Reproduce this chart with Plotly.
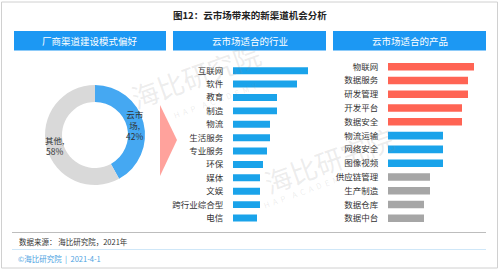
import math
import plotly.graph_objects as go

W, H = 500, 270
def px(x): return x / W
def py(y): return 1 - y / H

FONT = "Noto Sans CJK SC"

title = "图12：云市场带来的新渠道机会分析"
panel_titles = ["厂商渠道建设模式偏好", "云市场适合的行业", "云市场适合的产品"]

pie_labels = ["云市场", "其他"]
pie_values = [42, 58]
pie_text = ["云市<br>场,<br>42%", "其他,<br>58%"]
pie_colors = ["#45A8F2", "#D9D9D9"]

ind_cats = ["互联网", "软件", "教育", "制造", "物流", "生活服务", "专业服务", "环保",
            "媒体", "文娱", "跨行业综合型", "电信"]
ind_vals = [75, 64, 44, 44, 37, 37, 34, 30, 27, 27, 27, 24]

prod_cats = ["物联网", "数据服务", "研发管理", "开发平台", "数据安全", "物流运输", "网络安全",
             "图像视频", "供应链管理", "生产制造", "数据仓库", "数据中台"]
prod_vals = [86, 80, 80, 74, 74, 55, 55, 55, 42, 42, 36, 36]
prod_tier = [0, 0, 0, 0, 0, 1, 1, 1, 2, 2, 2, 2]
tier_colors = ["#FF6454", "#1AA3EA", "#A6A6A6"]

source_text = "数据来源： 海比研究院，2021年"
footer_text = "©海比研究院  |  2021-4-1"

fig = go.Figure()

def note(x, y, text, size, color, xanchor="center", angle=0, align="center"):
    fig.add_annotation(x=px(x), y=py(y), xref="paper", yref="paper", text=text,
                       showarrow=False, xanchor=xanchor, yanchor="middle",
                       textangle=angle, align=align,
                       font=dict(size=size, color=color, family=FONT))

# donut
cx, cy, R = 95, 135, 50
hole = 0.66
fig.add_trace(go.Pie(
    labels=pie_labels, values=pie_values, hole=hole, sort=False,
    direction="clockwise", rotation=0, textinfo="none",
    marker=dict(colors=pie_colors, line=dict(width=0)),
    domain=dict(x=[px(cx - R), px(cx + R)], y=[py(cy + R), py(cy - R)]),
    showlegend=False, hoverinfo="label+percent",
))

# pie labels at mid angles
total = sum(pie_values)
acc = 0
rmid = R * (1 + hole) / 2
for t, v in zip(pie_text, pie_values):
    mid = (acc + v / 2) / total * 2 * math.pi
    acc += v
    lx = cx + rmid * math.sin(mid)
    ly = cy - rmid * math.cos(mid)
    note(lx, ly, t, 8.5, "#333333")

# industry bars
fig.add_trace(go.Bar(
    y=ind_cats, x=ind_vals, orientation="h", width=0.52,
    marker=dict(color="#1AA3EA", line=dict(width=0)),
    xaxis="x", yaxis="y", showlegend=False,
))
# product bars
fig.add_trace(go.Bar(
    y=prod_cats, x=prod_vals, orientation="h", width=0.55,
    marker=dict(color=[tier_colors[t] for t in prod_tier], line=dict(width=0)),
    xaxis="x2", yaxis="y2", showlegend=False,
))

n = len(ind_cats)
ax_common = dict(showgrid=False, zeroline=False, showline=False, showticklabels=False,
                 fixedrange=True)
yax_common = dict(type="category", showgrid=False, zeroline=False, showline=False,
                  ticks="outside", ticklen=7, tickcolor="rgba(0,0,0,0)",
                  tickfont=dict(size=8.5, color="#333333", family=FONT),
                  range=[n - 0.5, -0.5], fixedrange=True)

fig.update_layout(
    width=W, height=H, margin=dict(l=0, r=0, t=0, b=0),
    paper_bgcolor="white", plot_bgcolor="rgba(0,0,0,0)",
    font=dict(family=FONT),
    xaxis=dict(domain=[px(233), px(333)], range=[0, 100], anchor="y", **ax_common),
    yaxis=dict(domain=[py(224.7), py(64)], anchor="x", **yax_common),
    xaxis2=dict(domain=[px(388), px(488)], range=[0, 100], anchor="y2", **ax_common),
    yaxis2=dict(domain=[py(225.2), py(59.8)], anchor="x2", **yax_common),
    bargap=0.4,
)

shapes = []
# outer border
shapes.append(dict(type="rect", xref="paper", yref="paper", x0=px(1.5), x1=px(497.5),
                   y0=py(268), y1=py(2), line=dict(color="#D0D0D0", width=1),
                   fillcolor="rgba(0,0,0,0)", layer="below"))
# header boxes
boxes = [(14, 166), (173, 326), (333, 486)]
for (x0, x1), t in zip(boxes, panel_titles):
    shapes.append(dict(type="rect", xref="paper", yref="paper", x0=px(x0), x1=px(x1),
                       y0=py(50.5), y1=py(31), line=dict(width=0), fillcolor="#1C98F3",
                       layer="below"))
    note((x0 + x1) / 2, 40.8, t, 9.5, "white")
# arrow triangle
shapes.append(dict(type="path", xref="paper", yref="paper",
                   path=f"M {px(160)} {py(105)} L {px(177)} {py(140)} L {px(160)} {py(176)} Z",
                   fillcolor="#FFA29C", line=dict(width=0), layer="below"))
# footer lines
shapes.append(dict(type="line", xref="paper", yref="paper", x0=px(12), x1=px(486),
                   y0=py(232.5), y1=py(232.5), line=dict(color="#BDBDBD", width=1)))
shapes.append(dict(type="line", xref="paper", yref="paper", x0=px(12), x1=px(486),
                   y0=py(249.5), y1=py(249.5), line=dict(color="#CFE7F8", width=1)))
fig.update_layout(shapes=shapes)

# title
note(250, 15.5, f"<b>{title}</b>", 9.5, "#222222")
# footer texts
note(17, 241.5, source_text, 7.5, "#333333", xanchor="left")
note(16, 258, footer_text, 7.5, "#4DA3E2", xanchor="left")

# watermarks
wm_color = "rgba(140,140,140,0.16)"
for (wx, wy), (sx, sy) in [((195, 75), (215, 100)), ((328, 160), (305, 190))]:
    note(wx, wy, "海比研究院", 27, wm_color, angle=-20)
    note(sx, sy, "H  A  P    A  C  A  D  E  M  Y", 8, wm_color, angle=-20)

fig.write_html("out.html")
